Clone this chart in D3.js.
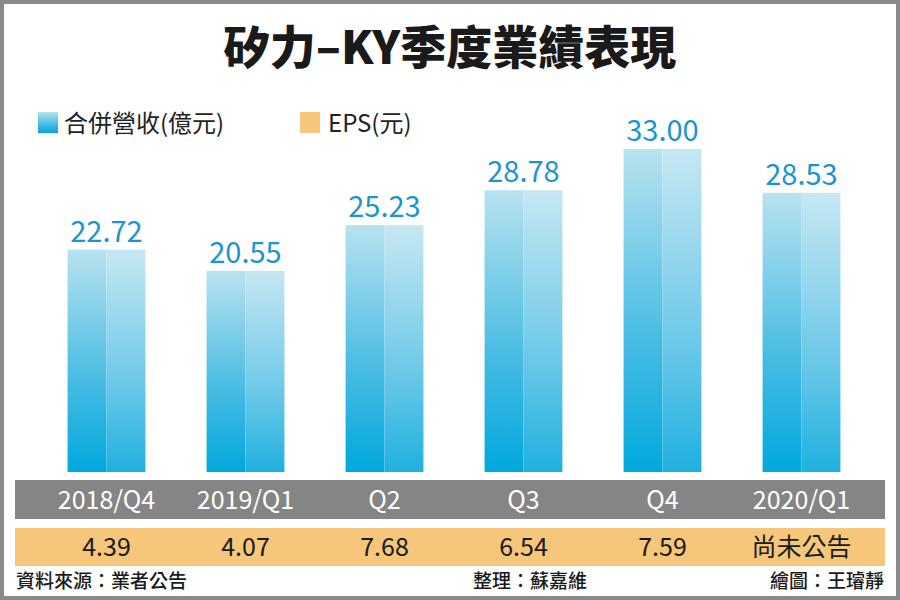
<!DOCTYPE html><html><head><meta charset="utf-8"><script src="https://d3js.org/d3.v7.min.js"></script>
<style>body{margin:0;background:#fff}</style></head><body><svg id="c" width="900" height="600"></svg>
<script>
const categories=["2018/Q4","2019/Q1","Q2","Q3","Q4","2020/Q1"];
const revenue=[22.72,20.55,25.23,28.78,33.00,28.53];
const eps=["4.39","4.07","7.68","6.54","7.59","尚未公告"];
const svg=d3.select("#c");
const F="'Noto Sans CJK TC','Noto Sans',sans-serif";
const defs=svg.append("defs");
const gL=defs.append("linearGradient").attr("id","gl").attr("x1",0).attr("y1",0).attr("x2",0).attr("y2",1);
gL.append("stop").attr("offset","0%").attr("stop-color","#b8e2ef");
gL.append("stop").attr("offset","60%").attr("stop-color","#45bbe3");
gL.append("stop").attr("offset","100%").attr("stop-color","#00a8dc");
const gR=defs.append("linearGradient").attr("id","gr").attr("x1",0).attr("y1",0).attr("x2",0).attr("y2",1);
gR.append("stop").attr("offset","0%").attr("stop-color","#c6e7f2");
gR.append("stop").attr("offset","60%").attr("stop-color","#6cc8e8");
gR.append("stop").attr("offset","100%").attr("stop-color","#1fb0df");
svg.append("rect").attr("x",2).attr("y",2).attr("width",896).attr("height",596).attr("fill","#fff").attr("stroke","#8a8a8a").attr("stroke-width",4);
svg.append("text").attr("x",450).attr("y",64).attr("text-anchor","middle").attr("font-family",F).attr("font-weight",900).attr("font-size",46).attr("fill","#1a1a1a").text("矽力–KY季度業績表現");
svg.append("rect").attr("x",38).attr("y",112).attr("width",20).attr("height",21).attr("fill","url(#gl)");
svg.append("text").attr("x",64).attr("y",132).attr("font-family",F).attr("font-size",24).attr("fill","#222").text("合併營收(億元)");
svg.append("rect").attr("x",300).attr("y",112).attr("width",20).attr("height",21).attr("fill","#f6c77a");
svg.append("text").attr("x",328).attr("y",132).attr("font-family",F).attr("font-size",24).attr("fill","#222").text("EPS(元)");
svg.append("rect").attr("x",15).attr("y",480).attr("width",870).attr("height",39).attr("fill","#858585");
svg.append("rect").attr("x",15).attr("y",528).attr("width",870).attr("height",38).attr("fill","#f6c77a");
const x=d3.scaleBand().domain(categories).range([37,871]).paddingInner(0.44).paddingOuter(0.22);
const y=d3.scaleLinear().domain([0,33]).range([472,149]);
const g=svg.selectAll(".b").data(categories).enter().append("g");
g.append("rect").attr("x",d=>x(d)).attr("y",(d,i)=>y(revenue[i])).attr("width",x.bandwidth()/2).attr("height",(d,i)=>y(0)-y(revenue[i])).attr("fill","url(#gl)");
g.append("rect").attr("x",d=>x(d)+x.bandwidth()/2).attr("y",(d,i)=>y(revenue[i])).attr("width",x.bandwidth()/2).attr("height",(d,i)=>y(0)-y(revenue[i])).attr("fill","url(#gr)");
g.append("text").attr("x",d=>x(d)+x.bandwidth()/2).attr("y",(d,i)=>y(revenue[i])-8).attr("text-anchor","middle").attr("font-family",F).attr("font-size",29).attr("fill","#1b95cf").text((d,i)=>revenue[i].toFixed(2));
g.append("text").attr("x",d=>x(d)+x.bandwidth()/2).attr("y",509).attr("text-anchor","middle").attr("font-family",F).attr("font-size",25).attr("fill","#fff").text(d=>d);
g.append("text").attr("x",d=>x(d)+x.bandwidth()/2).attr("y",556).attr("text-anchor","middle").attr("font-family",F).attr("font-size",25).attr("fill","#1a1a1a").text((d,i)=>eps[i]);
const ft=[["資料來源：業者公告",16,"start"],["整理：蘇嘉維",530,"middle"],["繪圖：王璿靜",884,"end"]];
svg.selectAll(".f").data(ft).enter().append("text").attr("x",d=>d[1]).attr("y",588).attr("text-anchor",d=>d[2]).attr("font-family",F).attr("font-weight",500).attr("font-size",19).attr("fill","#1a1a1a").text(d=>d[0]);
</script></body></html>
